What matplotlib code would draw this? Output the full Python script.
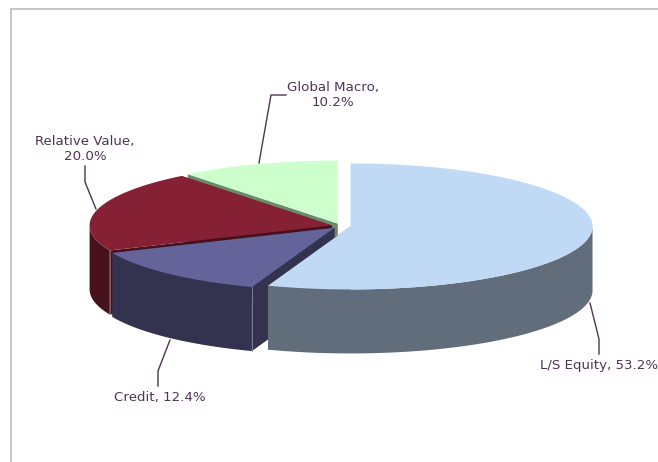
import numpy as np
import matplotlib
matplotlib.use("Agg")
import matplotlib.pyplot as plt

names = ["L/S Equity", "Credit", "Relative Value", "Global Macro"]
values = [53.2, 12.4, 20.0, 10.2]
top_colors = ["#C0DAF6", "#64649A", "#862135", "#CCFFCC"]
side_colors = ["#616D7A", "#33334F", "#46111A", "#6B8A6B"]
seam_colors = [None, "#8A8A9E", "#8A6A72", None]
text_color = "#4F3354"

# ellipse layout of the fake 3D pie, in pixels
cx, cy = 341.0, 226.0
rx, ry = 242.0, 63.0
depth = 64.0
explode = 0.04

fig = plt.figure(figsize=(6.58, 4.62), dpi=100)
ax = fig.add_axes([0, 0, 1, 1])
ax.set_xlim(0, 658)
ax.set_ylim(462, 0)
ax.axis("off")

# border on the top and left only
ax.plot([11, 11, 658], [462, 9, 9], color="#C8C8C8", lw=1.5, solid_joinstyle="miter")


def rim(t0, t1, ox, oy):
    t = np.radians(np.linspace(t0, t1, 200))
    return ox + rx * np.sin(t), oy - ry * np.cos(t)


fractions = np.array(values) / sum(values) * 360
ends = np.cumsum(fractions)
starts = ends - fractions

# painted back to front: macro, relative value, credit, then L/S equity
for i in [3, 2, 1, 0]:
    t0, t1 = starts[i], ends[i]
    mid = np.radians((t0 + t1) / 2)
    ox = cx + explode * rx * np.sin(mid)
    oy = cy - explode * ry * np.cos(mid)

    # cut faces running back to the centre
    for t in (t0, t1):
        x, y = rim(t, t, ox, oy)
        ax.fill([ox, x[0], x[0], ox], [oy, y[0], y[0] + depth, oy + depth],
                color=side_colors[i], lw=0)

    # outer wall, only the part facing the viewer
    a, b = max(t0, 90), min(t1, 270)
    if a < b:
        x, y = rim(a, b, ox, oy)
        ax.fill(np.r_[x, x[::-1]], np.r_[y, y[::-1] + depth], color=side_colors[i], lw=0)

    x, y = rim(t0, t1, ox, oy)
    ax.fill(np.r_[ox, x], np.r_[oy, y], color=top_colors[i], lw=0)

    # pale seam down the front corner of the wall
    if seam_colors[i]:
        ax.plot([x[0], x[0]], [y[0], y[0] + depth], color=seam_colors[i], lw=0.6)

# leader lines
leaders = [
    ([590, 599, 599], [303, 339, 354]),
    ([170, 158, 158], [340, 371, 386]),
    ([96, 85, 85], [209, 182, 166]),
    ([259, 271, 286], [163, 95, 95]),
]
for lx, ly in leaders:
    ax.plot(lx, ly, color=text_color, lw=1)

labels = [f"{n}, {v:.1f}%" for n, v in zip(names, values)]
labels[2] = labels[2].replace(", ", ",\n")
labels[3] = labels[3].replace(", ", ",\n")
label_pos = [(599, 365), (160, 397), (85, 149), (333, 95)]
for text, (tx, ty) in zip(labels, label_pos):
    ax.text(tx, ty, text, ha="center", va="center", color=text_color,
            fontsize=9.6, family="DejaVu Sans", linespacing=1.15)

fig.savefig("out.png", dpi=100)
